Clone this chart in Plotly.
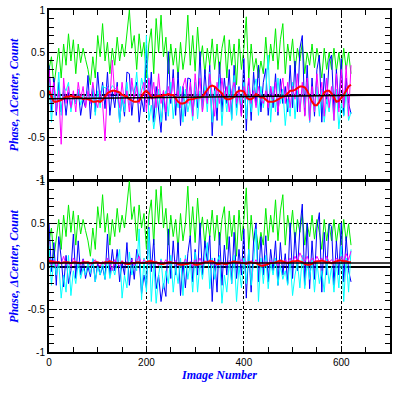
import plotly.graph_objects as go
from plotly.subplots import make_subplots

# ---------------- data (image number every 5 frames) ----------------
image_number = list(range(0, 621, 5))

green_phase = [
    0.30, 0.45, 0.10, 0.35, 0.55, 0.20, 0.60, 0.35, 0.72, 0.40, 0.65, 0.25,
    0.60, 0.38, 0.55, 0.42, 0.30, 0.12, 0.45, 0.20, 0.70, 0.45, 0.84, 0.40,
    0.62, 0.25, 0.55, 0.35, 0.68, 0.40, 0.60, 0.45, 0.75, 1.00, 0.55, 0.70,
    0.30, 0.72, 0.45, 0.62, 0.20, 0.60, 0.78, 0.25, 0.90, 0.50, 0.94, 0.45,
    0.68, 0.25, 0.60, 0.35, 0.55, 0.20, 0.62, 0.30, 0.50, 0.94, 0.35, 0.70,
    0.28, 0.80, 0.40, 0.58, 0.25, 0.55, 0.35, 0.66, 0.30, 0.60, 0.25, 0.55,
    0.70, 0.20, 0.65, 0.35, 0.60, 0.12, 0.66, 0.30, 0.55, 0.92, 0.20, 0.60,
    0.28, 0.43, 0.20, 0.40, 0.25, 0.68, 0.30, 0.60, 0.40, 0.78, 0.30, 0.65,
    0.84, 0.25, 0.60, 0.40, 0.66, 0.28, 0.55, 0.40, 0.62, 0.25, 0.50, 0.35,
    0.60, 0.32, 0.55, 0.40, 0.20, 0.55, 0.30, 0.50, 0.30, 0.55, 0.28, 0.50,
    0.25, 0.55, 0.30, 0.50, 0.25,
]

top_blue = [
    0.35, -0.20, 0.20, -0.24, 0.15, -0.20, 0.05, -0.24, 0.03, -0.16, 0.00, -0.10,
    0.07, -0.24, -0.05, -0.15, 0.23, -0.28, 0.10, -0.20, 0.27, -0.10, 0.15, -0.16,
    0.27, -0.24, 0.05, -0.15, 0.15, -0.32, 0.00, -0.25, 0.27, 0.25, -0.24, 0.05,
    0.15, -0.32, -0.05, -0.20, 0.55, -0.12, 0.27, -0.32, 0.10, -0.20, -0.44, 0.05,
    -0.30, 0.51, -0.10, 0.30, -0.24, 0.27, -0.36, 0.10, -0.25, 0.20, 0.19, -0.24,
    0.05, -0.15, 0.51, -0.20, 0.30, -0.10, 0.35, -0.48, 0.10, -0.30, 0.39, -0.20,
    0.20, -0.10, 0.30, -0.28, 0.35, -0.15, 0.10, -0.25, 0.43, -0.42, 0.20, -0.30,
    0.27, -0.12, 0.35, -0.20, 0.15, 0.31, -0.24, 0.10, -0.15, 0.25, -0.24, 0.19,
    -0.10, 0.10, -0.20, 0.35, -0.15, 0.40, -0.20, 0.55, 0.70, -0.24, 0.35, -0.32,
    0.20, -0.25, 0.30, 0.47, -0.32, 0.25, -0.10, 0.40, 0.47, -0.20, 0.30, -0.15,
    0.43, -0.24, 0.20, -0.10, -0.22,
]

top_cyan = [
    0.15, -0.32, 0.05, -0.20, 0.27, -0.24, 0.10, 0.05, 0.15, -0.20, 0.00, -0.10,
    0.07, -0.12, 0.00, -0.05, 0.05, -0.08, 0.11, -0.24, 0.05, -0.15, 0.11, 0.08,
    0.10, 0.05, 0.11, 0.08, 0.07, -0.32, 0.00, -0.20, 0.15, -0.12, 0.10, 0.00,
    0.27, -0.08, 0.20, 0.05, 0.70, -0.30, -0.12, -0.40, -0.20, 0.07, -0.32, -0.10,
    0.05, -0.25, 0.15, -0.28, 0.00, -0.15, 0.10, -0.32, 0.07, -0.20, -0.05, -0.30,
    0.15, -0.28, 0.05, -0.15, 0.10, -0.20, 0.27, -0.32, 0.05, -0.15, 0.20, -0.36,
    0.05, -0.20, 0.11, -0.30, 0.23, -0.24, 0.05, -0.10, 0.15, -0.28, 0.11, -0.20,
    0.05, 0.19, -0.24, 0.10, -0.15, 0.05, 0.47, -0.32, 0.10, -0.20, 0.20, -0.10,
    0.07, -0.36, -0.05, -0.25, 0.15, -0.28, 0.05, -0.20, 0.10, -0.15, 0.15, -0.32,
    0.05, -0.20, 0.10, -0.25, 0.07, -0.32, -0.05, -0.20, 0.05, -0.30, 0.07, -0.40,
    -0.10, -0.25, 0.05, -0.30, -0.20,
]

top_magenta = [
    0.30, -0.05, 0.15, -0.20, 0.05, -0.58, 0.20, -0.10, 0.10, -0.15, 0.05, -0.20,
    0.15, -0.05, 0.10, -0.15, 0.05, -0.10, 0.15, -0.05, -0.15, 0.05, -0.10, -0.54,
    0.10, -0.05, 0.41, 0.00, 0.10, -0.15, 0.15, -0.10, 0.05, -0.20, 0.20, -0.05,
    0.10, -0.10, 0.05, 0.15, -0.20, 0.20, -0.05, 0.15, -0.15, 0.25, -0.10, 0.05,
    -0.20, 0.10, -0.05, 0.20, -0.10, 0.05, -0.15, 0.10, 0.20, -0.10, 0.15, -0.25,
    0.25, -0.05, 0.20, -0.20, 0.05, -0.10, 0.25, 0.00, -0.25, 0.15, -0.10, 0.20,
    -0.05, 0.10, -0.20, 0.05, 0.15, -0.10, 0.05, -0.25, 0.10, -0.05, 0.20, -0.10,
    0.05, -0.15, 0.10, -0.05, -0.10, 0.05, -0.15, 0.10, -0.05, 0.15, -0.20, 0.05,
    0.20, -0.10, 0.15, -0.15, 0.10, -0.05, 0.25, -0.20, 0.15, -0.25, 0.20, -0.30,
    0.10, -0.20, 0.25, -0.10, 0.15, -0.25, 0.20, -0.15, 0.10, -0.30, 0.25, -0.20,
    0.30, -0.15, 0.35, -0.25, 0.35,
]

top_red = [
    0.05, -0.02, -0.08, -0.08, -0.07, -0.06, -0.04, -0.02, -0.02, -0.01, -0.02, -0.03,
    -0.02, -0.03, -0.05, -0.04, -0.05, -0.06, -0.08, -0.08, -0.07, -0.08, -0.06, -0.02,
    0.02, 0.04, 0.05, 0.05, 0.04, 0.03, 0.00, -0.01, -0.02, -0.05, -0.07, -0.08,
    -0.08, -0.07, -0.02, 0.03, 0.05, 0.02, -0.03, -0.03, -0.02, -0.01, -0.02, 0.00,
    0.00, 0.01, 0.00, 0.00, -0.04, -0.08, -0.10, -0.10, -0.09, -0.06, -0.05, -0.05,
    -0.04, -0.03, -0.03, -0.02, 0.02, 0.06, 0.10, 0.11, 0.10, 0.07, 0.05, 0.02,
    -0.03, -0.05, -0.05, -0.04, -0.02, 0.03, 0.05, 0.05, 0.04, -0.02, -0.05, -0.05,
    -0.03, 0.01, -0.01, -0.03, -0.03, -0.06, -0.08, -0.08, -0.08, -0.07, -0.05, -0.03,
    -0.02, -0.01, 0.02, 0.05, 0.05, 0.06, 0.08, 0.10, 0.10, 0.09, 0.05, -0.02,
    -0.08, -0.12, -0.12, -0.08, -0.02, 0.03, 0.05, 0.05, 0.02, -0.03, -0.08, -0.07,
    -0.04, 0.00, 0.05, 0.10, 0.12,
]

bottom_blue = [
    0.51, -0.06, 0.28, -0.22, 0.35, 0.10, -0.24, 0.13, -0.20, -0.05, 0.38, -0.14,
    0.30, -0.10, 0.09, -0.14, 0.00, -0.12, 0.09, -0.18, 0.05, -0.10, 0.00, -0.15,
    0.38, -0.10, 0.20, -0.05, 0.20, -0.18, 0.05, -0.10, 0.28, -0.22, 0.10, -0.15,
    0.20, 0.09, -0.32, -0.10, -0.25, 0.46, -0.06, 0.32, -0.26, -0.10, -0.41, -0.20,
    -0.35, 0.44, -0.14, 0.30, -0.10, 0.28, -0.34, 0.05, -0.25, 0.15, 0.36, -0.18,
    0.20, -0.10, 0.51, -0.10, 0.30, 0.05, 0.36, -0.41, 0.10, -0.30, 0.40, -0.22,
    0.25, -0.10, 0.35, -0.20, 0.40, -0.14, 0.20, -0.10, 0.44, -0.37, 0.20, -0.30,
    0.30, 0.51, -0.18, 0.35, -0.10, 0.36, -0.18, 0.20, -0.05, 0.30, -0.22, 0.28,
    -0.10, 0.15, -0.20, 0.51, -0.14, 0.40, -0.05, 0.45, 0.73, -0.22, 0.51, -0.26,
    0.30, -0.15, 0.45, 0.63, -0.30, 0.40, -0.10, 0.50, 0.47, -0.22, 0.30, -0.10,
    0.51, -0.18, 0.35, -0.05, -0.18,
]

bottom_cyan = [
    0.24, -0.22, 0.10, -0.10, 0.05, -0.37, -0.10, -0.30, 0.13, -0.34, -0.05, -0.20,
    0.05, -0.14, -0.02, -0.10, 0.05, -0.08, 0.09, -0.18, 0.00, -0.10, 0.05, -0.15,
    0.09, -0.14, 0.00, -0.10, 0.05, 0.20, -0.37, -0.10, -0.25, 0.17, -0.10, 0.05,
    -0.05, 0.44, -0.39, 0.10, -0.30, 0.44, -0.41, 0.05, -0.43, -0.10, 0.09, -0.26,
    -0.05, -0.20, 0.13, -0.30, 0.00, -0.20, 0.10, -0.34, 0.13, -0.15, 0.05, -0.30,
    0.17, -0.30, 0.05, -0.15, 0.10, 0.28, -0.26, 0.10, -0.15, 0.05, 0.13, -0.43,
    -0.10, -0.30, 0.05, -0.20, 0.13, -0.41, 0.00, -0.25, 0.10, -0.20, 0.20, -0.22,
    0.05, 0.44, -0.41, 0.10, -0.20, 0.13, -0.26, 0.05, -0.10, 0.10, -0.22, 0.01,
    -0.15, -0.05, -0.22, 0.09, -0.34, -0.10, 0.05, -0.25, 0.13, -0.26, 0.05, -0.15,
    0.10, -0.30, 0.05, -0.20, -0.05, -0.30, 0.09, -0.20, 0.00, -0.30, 0.05, -0.25,
    0.24, -0.41, 0.10, -0.30, 0.20,
]

bottom_magenta = [
    0.10, 0.02, 0.08, 0.00, 0.06, 0.03, 0.12, 0.02, 0.05, 0.00, 0.10, 0.04,
    0.06, 0.02, 0.08, 0.03, 0.06, 0.01, 0.05, 0.08, 0.03, 0.00, 0.06, 0.02,
    0.10, 0.03, -0.05, 0.08, 0.05, 0.00, 0.07, 0.02, 0.06, 0.03, 0.08, 0.01,
    0.07, 0.12, 0.03, 0.08, 0.05, 0.02, 0.08, 0.04, 0.06, 0.01, 0.07, 0.03,
    0.08, 0.02, 0.06, 0.03, 0.07, 0.01, 0.05, 0.02, 0.09, 0.03, 0.06, 0.00,
    0.08, 0.03, 0.10, 0.02, 0.07, 0.04, 0.08, 0.02, 0.06, 0.01, 0.07, 0.03,
    0.05, 0.01, 0.07, 0.03, 0.06, 0.02, 0.05, 0.08, 0.03, 0.06, 0.02, 0.07,
    0.03, 0.08, 0.02, 0.05, 0.01, 0.06, 0.02, 0.07, 0.03, 0.05, 0.01, 0.06,
    0.03, 0.08, 0.05, 0.10, 0.04, 0.12, 0.06, 0.16, 0.10, 0.06, 0.12, 0.04,
    0.10, 0.05, 0.12, 0.06, 0.10, 0.04, 0.12, 0.05, 0.08, 0.03, 0.10, 0.05,
    0.12, 0.06, 0.15, 0.08, 0.18,
]

bottom_red = [
    0.06, 0.06, 0.05, 0.05, 0.05, 0.04, 0.05, 0.05, 0.05, 0.04, 0.05, 0.05,
    0.04, 0.04, 0.05, 0.05, 0.05, 0.04, 0.04, 0.05, 0.05, 0.04, 0.04, 0.05,
    0.05, 0.06, 0.05, 0.04, 0.04, 0.04, 0.05, 0.04, 0.03, 0.03, 0.04, 0.04,
    0.05, 0.05, 0.04, 0.04, 0.05, 0.06, 0.06, 0.05, 0.05, 0.04, 0.03, 0.03,
    0.04, 0.05, 0.05, 0.04, 0.04, 0.03, 0.02, 0.02, 0.03, 0.03, 0.04, 0.04,
    0.02, 0.02, 0.03, 0.04, 0.05, 0.05, 0.06, 0.06, 0.04, 0.03, 0.03, 0.04,
    0.03, 0.03, 0.04, 0.05, 0.06, 0.05, 0.05, 0.04, 0.04, 0.03, 0.05, 0.05,
    0.04, 0.04, 0.02, 0.01, 0.01, 0.02, 0.03, 0.04, 0.04, 0.05, 0.06, 0.07,
    0.06, 0.05, 0.04, 0.05, 0.06, 0.06, 0.07, 0.06, 0.05, 0.03, 0.02, 0.02,
    0.03, 0.05, 0.06, 0.06, 0.07, 0.06, 0.05, 0.05, 0.04, 0.05, 0.06, 0.07,
    0.07, 0.06, 0.06, 0.05, 0.05,
]

# reference (black) lines
ref_x = [0, 700]
top_ref_y = [-0.045, 0.0]
bottom_ref_y = [0.04, 0.04]

y_tick_vals = [-1, -0.5, 0, 0.5, 1]
y_tick_text = ["-1", "-0.5", "0", "0.5", "1"]
x_tick_vals = [0, 200, 400, 600]
x_tick_text = ["0", "200", "400", "600"]

# ---------------- figure ----------------
fig = make_subplots(rows=2, cols=1, shared_xaxes=True, vertical_spacing=0.003)

top_series = [
    (green_phase, "#00ee00", 1),
    (top_blue, "#0000ff", 1),
    (top_cyan, "#00ffff", 1),
    (top_magenta, "#ff00ff", 1),
    (top_red, "#ff0000", 2),
]
bottom_series = [
    (green_phase, "#00ee00", 1),
    (bottom_blue, "#0000ff", 1),
    (bottom_cyan, "#00ffff", 1),
    (bottom_magenta, "#ff00ff", 1),
    (bottom_red, "#ff0000", 2),
]

for row, series, ref_y in ((1, top_series, top_ref_y), (2, bottom_series, bottom_ref_y)):
    for vals, col, w in series:
        fig.add_trace(go.Scatter(x=image_number, y=vals, mode="lines",
                                 line=dict(color=col, width=w),
                                 showlegend=False, hoverinfo="skip"), row=row, col=1)
    fig.add_trace(go.Scatter(x=ref_x, y=ref_y, mode="lines",
                             line=dict(color="black", width=1.5), showlegend=False,
                             hoverinfo="skip"), row=row, col=1)

tick_font = dict(family="Liberation Sans", size=10, color="black")
title_font = dict(family="Liberation Serif", size=12, color="#0000ff",
                  style="italic", weight="bold")

common_x = dict(range=[0, 700], showline=True, linecolor="black", linewidth=2,
                mirror="allticks", ticks="inside", ticklen=5, tickwidth=1.2,
                tickcolor="black", tickvals=x_tick_vals, ticktext=x_tick_text,
                minor=dict(dtick=50, tick0=0, ticks="inside", ticklen=5,
                           tickwidth=1.2, tickcolor="black", showgrid=False),
                showgrid=True, gridcolor="black", gridwidth=1, griddash="3px,2px",
                zeroline=False, tickfont=tick_font, automargin=False)
common_y = dict(range=[-1, 1], showline=True, linecolor="black", linewidth=2,
                mirror="allticks", ticks="inside", ticklen=5, tickwidth=1.2,
                tickcolor="black", tickvals=y_tick_vals, ticktext=y_tick_text,
                minor=dict(dtick=0.1, tick0=0, ticks="inside", ticklen=5,
                           tickwidth=1.2, tickcolor="black", showgrid=False),
                showgrid=True, gridcolor="black", gridwidth=1, griddash="3px,2px",
                zeroline=True, zerolinecolor="black", zerolinewidth=1.5,
                tickfont=tick_font, automargin=False, ticklabeloverflow="allow",
                title=dict(text="Phase, ΔCenter, Count", font=title_font, standoff=7))

fig.update_xaxes(**common_x)
fig.update_yaxes(**common_y)
fig.update_xaxes(showticklabels=False, row=1, col=1)
fig.update_xaxes(title=dict(text="Image Number", font=title_font, standoff=2), row=2, col=1)
fig.update_yaxes(domain=[0.503, 1.0], row=1, col=1)
fig.update_yaxes(domain=[0.0, 0.5], row=2, col=1)

fig.update_layout(width=399, height=399, margin=dict(l=49, r=9, t=10, b=47),
                  paper_bgcolor="white", plot_bgcolor="white")

# remove the browser's default 8px body margin so the figure fills the window
fig.write_html("out.html", config={"displayModeBar": False},
               post_script="document.body.style.margin='0px';")
